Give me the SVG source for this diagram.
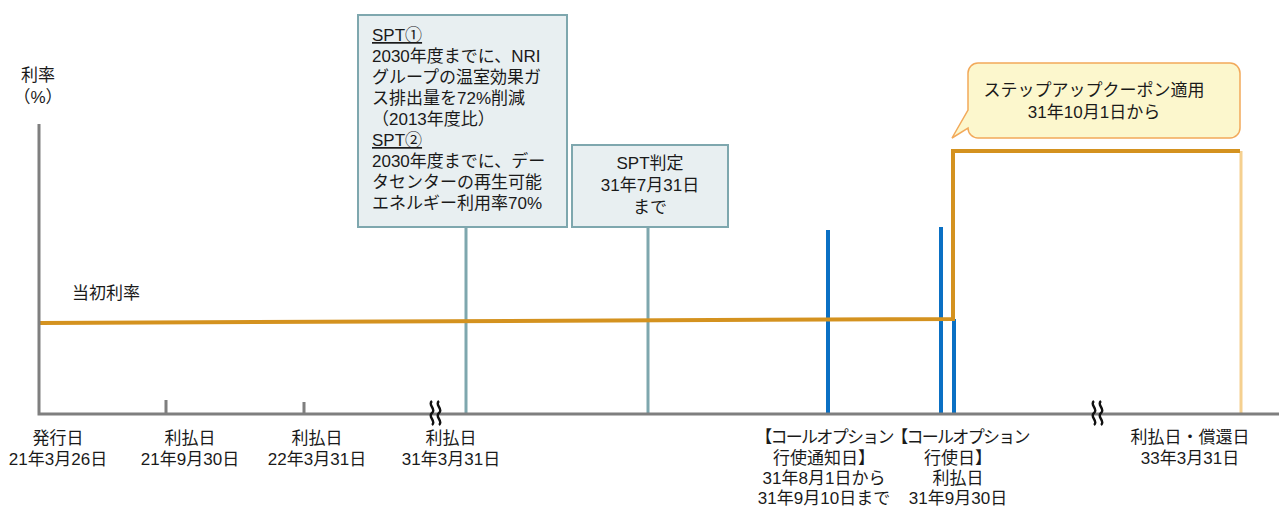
<svg xmlns="http://www.w3.org/2000/svg" width="1279" height="509" viewBox="0 0 1279 509">
<style>
text{font-family:"Liberation Sans","Noto Sans CJK JP",sans-serif;font-size:17px;fill:#1a1a1a}
.c{text-anchor:middle}
.u{text-decoration:underline}
.n{letter-spacing:-1.7px}
.axis{stroke:#7f7f7f;stroke-width:3;fill:none}
.teal{stroke:#7ea7ae;stroke-width:3}
.blue{stroke:#0a70c4;stroke-width:4}
.rate{stroke:#d4921f;stroke-width:4;fill:none}
.brk{stroke:#111;stroke-width:2.4;fill:none}
.box{fill:#e8eff1;stroke:#7ea7ae;stroke-width:2}
</style>
<rect width="1279" height="509" fill="#fff"/>
<g id="connectors">
<path class="teal" d="M466 227V414M648 227V414"/>
<path class="blue" d="M828 230V414M941 227V414M954 319V414"/>
<path stroke="#f5d08f" stroke-width="3" d="M1241 151V414"/>
<path class="rate" d="M39 323L953 319V151H1240"/>
<path class="axis" d="M39 124V414H1279M166 400V414M304 402V414"/>
<path class="brk" d="M432 401c-5 4 5 8 0 12s5 8 0 12M439 401c-5 4 5 8 0 12s5 8 0 12M1094 401c-5 4 5 8 0 12s5 8 0 12M1101 401c-5 4 5 8 0 12s5 8 0 12"/>
</g>
<g id="yaxis-label">
<text class="c" x="38" y="81">利率</text>
<text class="c" x="38" y="103">（%）</text>
</g>
<g id="initial-rate">
<text x="72" y="299">当初利率</text>
</g>
<g id="spt-box">
<rect class="box" x="358" y="15" width="209" height="212"/>
<text x="372" y="41" class="u">SPT①</text>
<text x="372" y="62">2030年度までに、NRI</text>
<text x="372" y="83">グループの温室効果ガ</text>
<text x="372" y="104">ス排出量を72%削減</text>
<text x="372" y="125">（2013年度比）</text>
<text x="372" y="146" class="u">SPT②</text>
<text x="372" y="167">2030年度までに、デー</text>
<text x="372" y="188">タセンターの再生可能</text>
<text x="372" y="209">エネルギー利用率70%</text>
</g>
<g id="spt-judge">
<rect class="box" x="572" y="145" width="156" height="82"/>
<text class="c" x="650" y="169">SPT判定</text>
<text class="c" x="650" y="191">31年7月31日</text>
<text class="c" x="650" y="213">まで</text>
</g>
<g id="stepup-callout">
<path d="M978 63H1230A10 10 0 0 1 1240 73V128A10 10 0 0 1 1230 138H978A10 10 0 0 1 968 128L952 138L968 110V73A10 10 0 0 1 978 63Z" fill="#fcf7cd" stroke="#f2a95a" stroke-width="1.5"/>
<text class="c" x="1094" y="96">ステップアップクーポン適用</text>
<text class="c" x="1094" y="118">31年10月1日から</text>
</g>
<g id="label-issue">
<text class="c" x="58" y="444">発行日</text>
<text class="c" x="58" y="465">21年3月26日</text>
</g>
<g id="label-pay1">
<text class="c" x="190" y="444">利払日</text>
<text class="c" x="190" y="465">21年9月30日</text>
</g>
<g id="label-pay2">
<text class="c" x="317" y="444">利払日</text>
<text class="c" x="317" y="465">22年3月31日</text>
</g>
<g id="label-pay3">
<text class="c" x="451" y="444">利払日</text>
<text class="c" x="451" y="465">31年3月31日</text>
</g>
<g id="label-call-notice">
<text class="c n" x="824" y="443">【コールオプション</text>
<text class="c" x="824" y="464">行使通知日】</text>
<text class="c" x="824" y="484">31年8月1日から</text>
<text class="c" x="824" y="504">31年9月10日まで</text>
</g>
<g id="label-call-exercise">
<text class="c n" x="960" y="443">【コールオプション</text>
<text class="c" x="958" y="464">行使日】</text>
<text class="c" x="958" y="484">利払日</text>
<text class="c" x="958" y="504">31年9月30日</text>
</g>
<g id="label-maturity">
<text class="c" x="1190" y="443">利払日・償還日</text>
<text class="c" x="1190" y="464">33年3月31日</text>
</g>
</svg>
